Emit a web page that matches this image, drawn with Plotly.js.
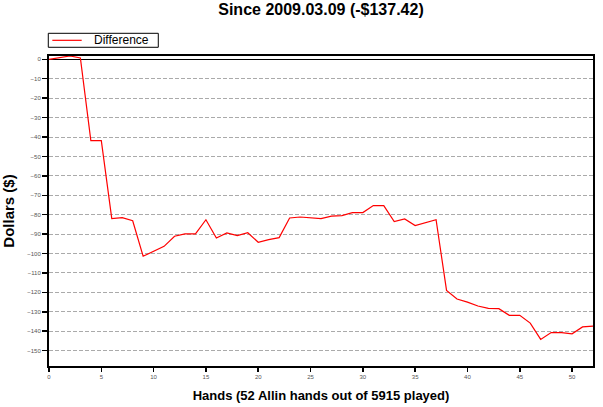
<!DOCTYPE html>
<html>
<head>
<meta charset="utf-8">
<script src="https://cdn.plot.ly/plotly-3.0.1.min.js"></script>
<style>html,body{margin:0;padding:0;background:#fff;}#chart{width:603px;height:407px;}</style>
</head>
<body>
<div id="chart"></div>
<script>
const hands = [0,1,2,3,4,5,6,7,8,9,10,11,12,13,14,15,16,17,18,19,20,21,22,23,24,25,26,27,28,29,30,31,32,33,34,35,36,37,38,39,40,41,42,43,44,45,46,47,48,49,50,51,52];
const difference = [0,0.9,1.7,0.7,-41.9,-41.9,-82.0,-81.5,-83.1,-101.4,-98.9,-96.3,-91.1,-89.9,-89.9,-82.6,-92.0,-89.4,-90.8,-89.3,-94.2,-92.8,-91.8,-81.7,-81.2,-81.6,-82.0,-80.7,-80.5,-78.9,-78.9,-75.3,-75.3,-83.6,-82.2,-85.6,-83.9,-82.6,-119.0,-123.4,-125.0,-127.0,-128.2,-128.4,-131.8,-131.8,-135.8,-144.2,-140.7,-140.7,-141.3,-137.8,-137.42];
const seriesName = 'Difference';
const titleText = 'Since 2009.03.09 (-$137.42)';
const xTitle = 'Hands (52 Allin hands out of 5915 played)';
const yTitle = 'Dollars ($)';
const lineColor = '#ff0000';

const trace = {
  x: hands, y: difference, type: 'scatter', mode: 'lines', name: seriesName,
  line: {color: lineColor, width: 1.2}, showlegend: false
};
const tickFont = {family: 'Liberation Sans, Arial, sans-serif', size: 6, color: '#555'};
const layout = {
  width: 603, height: 407,
  margin: {l: 49, r: 10, t: 56, b: 41},
  paper_bgcolor: '#fff', plot_bgcolor: '#fff',
  font: {family: 'Liberation Sans, Arial, sans-serif', color: '#000'},
  title: {text: '<b>' + titleText + '</b>', font: {size: 16, color: '#000'}, x: 0.5, xref: 'paper', xanchor: 'center', y: 0.99, yref: 'container', yanchor: 'top', automargin: false},
  showlegend: false,
  shapes: [
    {type: 'rect', xref: 'paper', yref: 'paper', x0: -0.0013, x1: 0.2009, y0: 1.0281, y1: 1.0732, line: {color: '#000', width: 1}, fillcolor: '#fff'},
    {type: 'line', xref: 'paper', yref: 'paper', x0: 0.0061, x1: 0.0601, y0: 1.0506, y1: 1.0506, line: {color: lineColor, width: 1.2}}
  ],
  annotations: [
    {text: seriesName, xref: 'paper', yref: 'paper', x: 0.0785, y: 1.0506, xanchor: 'left', yanchor: 'middle', showarrow: false, font: {size: 12, color: '#000'}}
  ],
  xaxis: {
    range: [0, 52], dtick: 5, tick0: 0, showgrid: false, zeroline: false,
    showline: true, linecolor: '#000', linewidth: 2, mirror: true,
    ticks: 'outside', ticklen: 4, tickcolor: '#000', tickwidth: 1.5,
    tickfont: tickFont,
    title: {text: '<b>' + xTitle + '</b>', font: {size: 13, color: '#000'}, standoff: 12}
  },
  yaxis: {
    range: [-157.9, 1.7], dtick: 10, tick0: 0,
    showgrid: true, gridcolor: '#aaa', griddash: '4px,2px', gridwidth: 1,
    zeroline: true, zerolinecolor: '#000', zerolinewidth: 1.5,
    showline: true, linecolor: '#000', linewidth: 2, mirror: true,
    ticks: 'outside', ticklen: 5, tickcolor: '#000', tickwidth: 1.5,
    tickfont: tickFont,
    title: {text: '<b>' + yTitle + '</b>', font: {size: 15, color: '#000'}, standoff: 9}
  }
};
Plotly.newPlot('chart', [trace], layout, {displayModeBar: false, staticPlot: true});
</script>
</body>
</html>
